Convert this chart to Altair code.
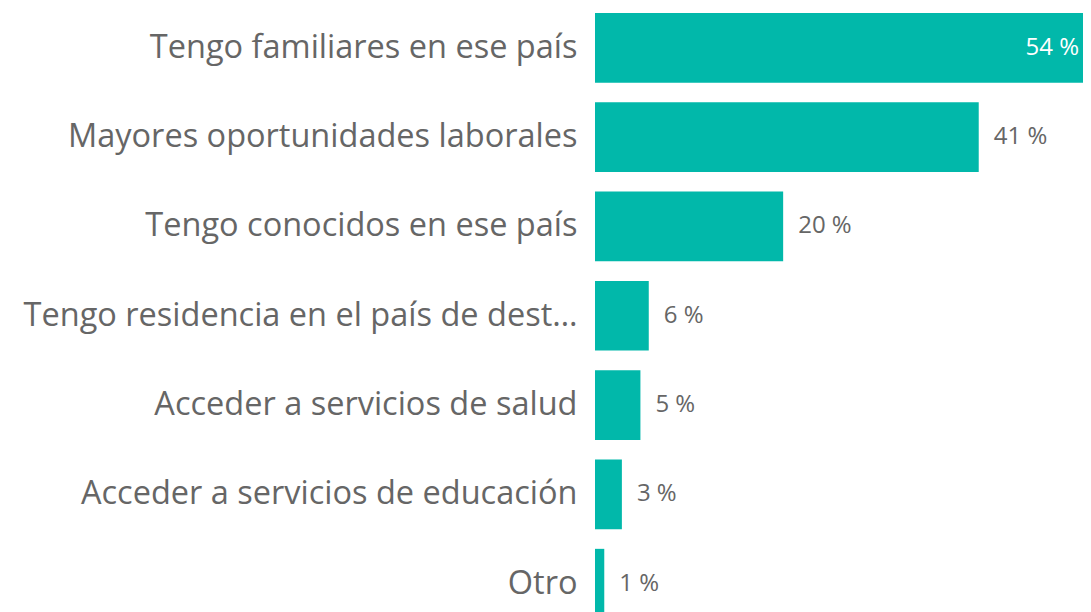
import altair as alt
import pandas as pd

categories = [
    "Tengo familiares en ese país",
    "Mayores oportunidades laborales",
    "Tengo conocidos en ese país",
    "Tengo residencia en el país de dest…",
    "Acceder a servicios de salud",
    "Acceder a servicios de educación",
    "Otro",
]
values = [54.3, 41.4, 20.3, 5.8, 4.9, 2.9, 1.0]

df = pd.DataFrame({"motivo": categories, "pct": values})
df["label"] = df["pct"].round(0).astype(int).astype(str) + " %"

FONT = "Open Sans"
BAR = "#01B8AA"
GRAY = "#666666"

y_enc = alt.Y(
    "motivo:N",
    sort=categories,
    title=None,
    scale=alt.Scale(paddingInner=0.22, paddingOuter=0, range=[5, 610.5]),
    axis=alt.Axis(
        ticks=False,
        domain=False,
        grid=False,
        labelFont=FONT,
        labelFontSize=32.5,
        labelColor=GRAY,
        labelPadding=18,
        labelLimit=1000,
        minExtent=587,
        maxExtent=587,
    ),
)
x_scale = alt.Scale(domain=[0, 52.65], nice=False, zero=True, clamp=True)

base = alt.Chart(df)

bars = base.mark_bar(color=BAR).encode(
    y=y_enc,
    x=alt.X("pct:Q", scale=x_scale, axis=None),
)

outside = base.transform_filter(alt.datum.pct < 50).mark_text(
    align="left", baseline="middle", dx=15, font=FONT, fontSize=24, color=GRAY
).encode(
    y=alt.Y("motivo:N", sort=categories),
    x=alt.X("pct:Q", scale=x_scale),
    text="label:N",
)

inside = base.transform_filter(alt.datum.pct >= 50).mark_text(
    align="right", baseline="middle", dx=-4, font=FONT, fontSize=24, color="white"
).encode(
    y=alt.Y("motivo:N", sort=categories),
    x=alt.X("pct:Q", scale=x_scale),
    text="label:N",
)

chart = (
    alt.layer(bars, outside, inside)
    .properties(width=488, height=596, padding=0, view=alt.ViewBackground(strokeWidth=0, strokeOpacity=0))
    .configure_view(strokeWidth=0, strokeOpacity=0)
    .configure(background="white")
)

chart.save("out.html", embed_options={"renderer": "svg", "actions": False})
